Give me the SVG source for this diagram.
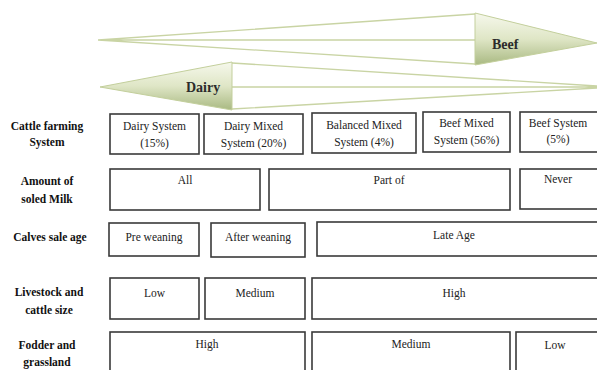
<svg xmlns="http://www.w3.org/2000/svg" width="597" height="370" viewBox="0 0 597 370">
<defs>
<linearGradient id="gh" x1="0" y1="0" x2="0" y2="1">
<stop offset="0" stop-color="#f6f8ec"/>
<stop offset="0.5" stop-color="#dfe6c6"/>
<stop offset="1" stop-color="#a9b982"/>
</linearGradient>
<style>
.sh{fill:none;stroke:#c9d4a4;stroke-width:1.3}
.hd{fill:url(#gh);stroke:#c3cf9c;stroke-width:1}
.at{font-family:'Liberation Serif','DejaVu Serif',serif;font-weight:bold;font-size:14px;fill:#2b2b2b}
.bx{fill:#fff;stroke:#3a3a3a;stroke-width:1.6}
.t{font-family:'Liberation Serif','DejaVu Serif',serif;font-size:11.5px;fill:#222;text-anchor:middle}
.l{font-family:'Liberation Serif','DejaVu Serif',serif;font-weight:bold;font-size:11.5px;fill:#111;text-anchor:middle}
</style>
</defs>
<rect width="597" height="370" fill="#fff"/>
<g id="arrow-beef">
<path class="sh" d="M98,40 L475,14 M98,40 L475,40 M98,40 L475,64"/>
<polygon class="hd" points="475,13 597,43 475,65"/>
<text class="at" x="492" y="49" font-family="Liberation Serif, serif">Beef</text>
</g>
<g id="arrow-dairy">
<path class="sh" d="M232,63 L597,86 M232,87 L597,87 M232,109 L597,88"/>
<polygon class="hd" points="232,62 100,87 232,110"/>
<text class="at" x="186" y="92" font-family="Liberation Serif, serif">Dairy</text>
</g>
<g id="labels">
<text class="l" x="47" y="130">Cattle farming</text>
<text class="l" x="47" y="146">System</text>
<text class="l" x="47" y="185">Amount of</text>
<text class="l" x="47" y="203">soled Milk</text>
<text class="l" x="50" y="241">Calves sale age</text>
<text class="l" x="49" y="296">Livestock and</text>
<text class="l" x="49" y="314">cattle size</text>
<text class="l" x="47" y="349">Fodder and</text>
<text class="l" x="47" y="366">grassland</text>
</g>
<g id="row1">
<g id="n-dairy-system"><rect class="bx" x="110" y="114" width="89" height="40"/><text class="t" x="154.5" y="130">Dairy System</text><text class="t" x="154.5" y="147">(15%)</text></g>
<g id="n-dairy-mixed"><rect class="bx" x="204" y="114" width="99" height="40"/><text class="t" x="253.5" y="130">Dairy Mixed</text><text class="t" x="253.5" y="147">System (20%)</text></g>
<g id="n-balanced"><rect class="bx" x="312" y="113" width="104" height="40"/><text class="t" x="364" y="129">Balanced Mixed</text><text class="t" x="364" y="146">System (4%)</text></g>
<g id="n-beef-mixed"><rect class="bx" x="423" y="112" width="87" height="40"/><text class="t" x="466.5" y="127">Beef Mixed</text><text class="t" x="466.5" y="144">System (56%)</text></g>
<g id="n-beef-system"><rect class="bx" x="520" y="112" width="80" height="40"/><text class="t" x="558" y="127">Beef System</text><text class="t" x="558" y="143">(5%)</text></g>
</g>
<g id="row2">
<g id="n-all"><rect class="bx" x="110" y="169" width="150" height="41"/><text class="t" x="185" y="184">All</text></g>
<g id="n-partof"><rect class="bx" x="269" y="169" width="241" height="41"/><text class="t" x="389" y="184">Part of</text></g>
<g id="n-never"><rect class="bx" x="520" y="169" width="80" height="40"/><text class="t" x="558" y="183">Never</text></g>
</g>
<g id="row3">
<g id="n-pre"><rect class="bx" x="109" y="223" width="90" height="33"/><text class="t" x="154" y="241">Pre weaning</text></g>
<g id="n-after"><rect class="bx" x="211" y="223" width="94" height="34"/><text class="t" x="258" y="241">After weaning</text></g>
<g id="n-late"><rect class="bx" x="317" y="222" width="283" height="34"/><text class="t" x="454" y="239">Late Age</text></g>
</g>
<g id="row4">
<g id="n-low4"><rect class="bx" x="110" y="278" width="89" height="41"/><text class="t" x="154.5" y="297">Low</text></g>
<g id="n-med4"><rect class="bx" x="205" y="278" width="100" height="41"/><text class="t" x="255" y="297">Medium</text></g>
<g id="n-high4"><rect class="bx" x="312" y="278" width="288" height="41"/><text class="t" x="454" y="297">High</text></g>
</g>
<g id="row5">
<g id="n-high5"><rect class="bx" x="110" y="332" width="195" height="45"/><text class="t" x="207" y="348">High</text></g>
<g id="n-med5"><rect class="bx" x="312" y="332" width="198" height="45"/><text class="t" x="411" y="348">Medium</text></g>
<g id="n-low5"><rect class="bx" x="516" y="332" width="84" height="45"/><text class="t" x="555" y="349">Low</text></g>
</g>
</svg>
